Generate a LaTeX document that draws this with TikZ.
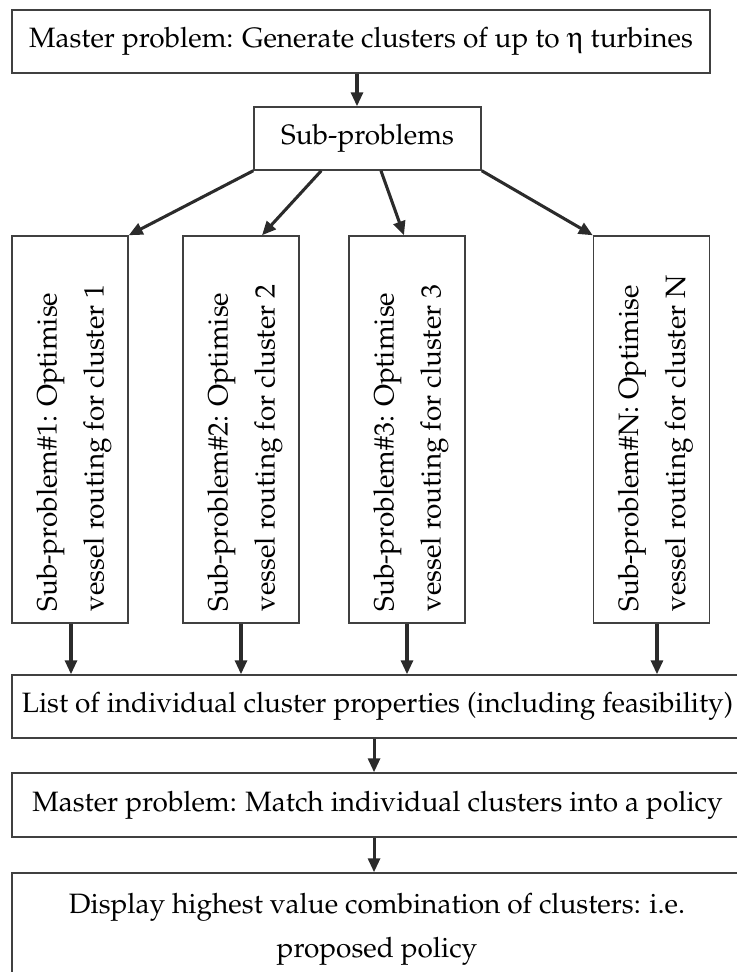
\documentclass[tikz,border=0pt]{standalone}
\usepackage[T1]{fontenc}
\usepackage{mathpazo}
\usepackage[Symbol]{upgreek}
\usetikzlibrary{arrows.meta}
\definecolor{boxgray}{HTML}{404040}
\definecolor{arrowgray}{HTML}{2B2B2B}
\begin{document}
\begin{tikzpicture}[x=0.75pt,y=-0.75pt,
  box/.style={draw=boxgray,line width=1.1pt,inner sep=0pt,
    font=\fontsize{21}{35}\selectfont},
  flow/.style={draw=arrowgray,line width=2.3pt,
    -{Triangle[length=10.5pt,width=9pt]}},
  vtxt/.style={rotate=90,anchor=west,align=left,inner sep=0pt,
    font=\fontsize{21}{35.25}\selectfont}]
\useasboundingbox (0,0) rectangle (737,972);
\clip (0,0) rectangle (737,972);

% master problem and sub-problem hub
\node[box,minimum width=523.5pt,minimum height=47.25pt] (gen) at (361,41.5)
  {Master problem: Generate clusters of up to $\upeta$ turbines};
\node[box,minimum width=170.25pt,minimum height=47.25pt] (sub) at (367.5,138.5)
  {Sub-problems};

% the individual sub-problems
\foreach \n/\cx in {1/70,2/241,3/407,4/651.5}
  \node[box,minimum width=87pt,minimum height=290.25pt] (sp\n) at (\cx,429.5) {};
\node[vtxt] (t1) at ([xshift=3pt,yshift=9pt]sp1.south)
  {Sub-problem\#1: Optimise\\vessel routing for cluster 1};
\node[vtxt] (t2) at ([xshift=3pt,yshift=9pt]sp2.south)
  {Sub-problem\#2: Optimise\\vessel routing for cluster 2};
\node[vtxt] (t3) at ([xshift=3pt,yshift=9pt]sp3.south)
  {Sub-problem\#3: Optimise\\vessel routing for cluster 3};
\node[vtxt] (t4) at ([xshift=3pt,yshift=9pt]sp4.south)
  {Sub-problem\#N: Optimise\\vessel routing for cluster N};

% results and final policy
\node[box,minimum width=548.25pt,minimum height=47.25pt] (list) at (377.5,706.5)
  {List of individual cluster properties (including feasibility)};
\node[box,minimum width=548.25pt,minimum height=48pt] (match) at (377.5,805)
  {Master problem: Match individual clusters into a policy};
\node[box,minimum width=548.25pt,minimum height=82.5pt] (disp) at (377.5,928) {};
\node[align=center,inner sep=0pt,font=\fontsize{21}{33}\selectfont] (disptxt)
  at (377,929) {Display highest value combination of clusters: i.e.\\proposed policy};

% connectors
\draw[flow] ([xshift=-3pt]gen.south) -- ([xshift=-3pt]gen.south |- sub.north);
\draw[flow] (sub.south west) -- (sp1.north east);
\draw[flow] ([xshift=51pt]sub.south west) -- ([xshift=15.75pt]sp2.north);
\draw[flow] ([xshift=10.1pt]sub.south) -- ([xshift=-2.25pt]sp3.north);
\draw[flow] (sub.south east) -- (sp4.north west);
\draw[flow] ([xshift=0.75pt]sp1.south) -- ([xshift=0.75pt]sp1.south |- list.north);
\draw[flow] (sp2.south) -- (sp2.south |- list.north);
\draw[flow] (sp3.south) -- (sp3.south |- list.north);
\draw[flow] ([xshift=4.1pt]sp4.south) -- ([xshift=4.1pt]sp4.south |- list.north);
\draw[flow] ([xshift=-2.6pt]list.south) -- ([xshift=-2.6pt]list.south |- match.north);
\draw[flow] ([xshift=-2.6pt]match.south) -- ([xshift=-2.6pt]match.south |- disp.north);
\end{tikzpicture}
\end{document}
